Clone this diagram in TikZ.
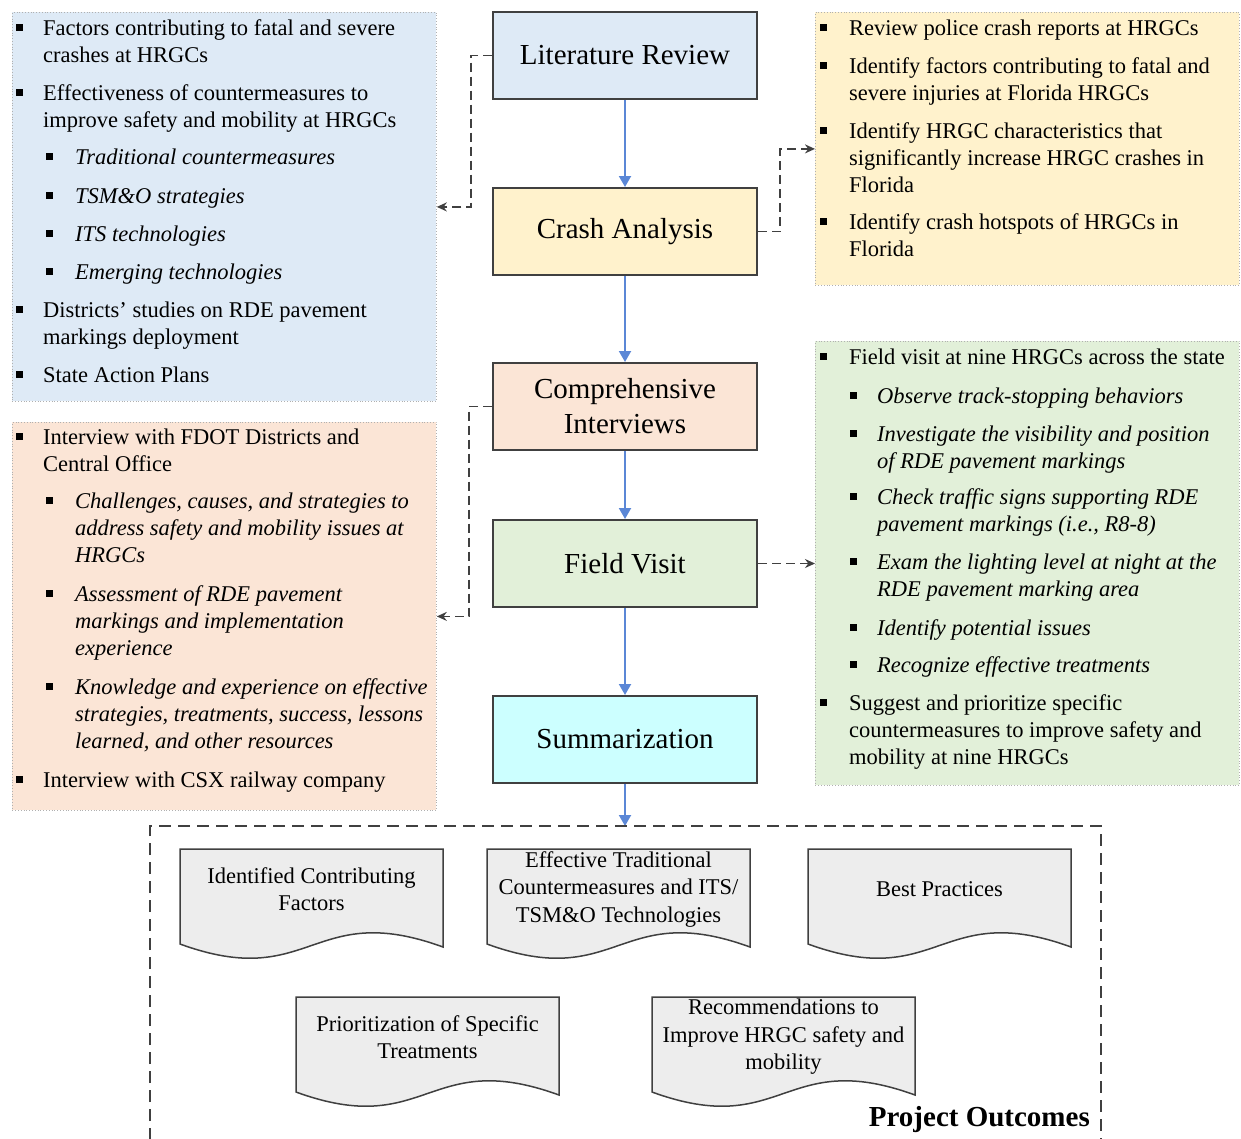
\documentclass[tikz,border=0pt]{standalone}
\usepackage{fontspec}
\setmainfont{Liberation Serif}
\usetikzlibrary{arrows.meta}
\definecolor{cblue}{HTML}{DEEAF6}
\definecolor{cyell}{HTML}{FFF2CC}
\definecolor{corng}{HTML}{FBE5D6}
\definecolor{cgrn}{HTML}{E2F0D9}
\definecolor{ccyan}{HTML}{CCFFFF}
\definecolor{cdoc}{HTML}{EDEDED}
\definecolor{cedge}{HTML}{404040}
\definecolor{carrow}{HTML}{5B87D6}
\definecolor{cpanel}{HTML}{B0B0B0}
\newcommand\bitem[5]{%
  \fill (#2-3.5,#4-11.5) rectangle (#2+3.5,#4-4.5);
  \node[itemtext] (#1) at (#3,#4-18.9) {\strut #5};}
\newcommand\sitem[5]{%
  \fill (#2-3.5,#4-11.5) rectangle (#2+3.5,#4-4.5);
  \node[subtext] (#1) at (#3,#4-18.9) {\strut #5};}
\newcommand\docbox[4]{%
  \filldraw[docshape] (#2,#3) -- (#2+263,#3) -- (#2+263,#3+98)
    .. controls (#2+131.5,#3+50) and (#2+131.5,#3+143) .. (#2,#3+95) -- cycle;
  \node[doctext] (#1) at (#2+131.5,#3+40) {#4};}
\begin{document}
\begin{tikzpicture}[x=1pt,y=-1pt,
  stepbox/.style={draw=cedge, line width=2pt, minimum width=264pt, minimum height=87pt,
    inner sep=0pt, align=center, font=\fontsize{29}{35}\selectfont},
  panel/.style={draw=cpanel, dotted, line width=0.8pt, inner sep=0pt, anchor=north west},
  itemtext/.style={anchor=north west, inner sep=0pt, align=left,
    font=\fontsize{22.5}{27}\selectfont},
  subtext/.style={itemtext, font=\fontsize{22.5}{27}\selectfont\itshape},
  flow/.style={draw=carrow, line width=2pt, -{Triangle[width=12pt,length=11pt]}},
  link/.style={draw=cedge, line width=1.8pt, dash pattern=on 9pt off 5pt,
    -{Stealth[length=10pt,width=9pt]}},
  docshape/.style={fill=cdoc, draw=cedge, line width=1.5pt},
  doctext/.style={align=center, inner sep=0pt, font=\fontsize{22.5}{27.5}\selectfont},
]
\useasboundingbox (0,0) rectangle (1241,1138);

% side panels
\node[panel, fill=cblue, minimum width=424pt, minimum height=389pt] (p1) at (12,12) {};
\node[panel, fill=cyell, minimum width=424pt, minimum height=273pt] (p2) at (815,12) {};
\node[panel, fill=corng, minimum width=424pt, minimum height=388pt] (p3) at (12,422) {};
\node[panel, fill=cgrn, minimum width=424pt, minimum height=444pt] (p4) at (815,341) {};

% main steps
\node[stepbox, fill=cblue] (lr) at (625,55.5) {Literature Review};
\node[stepbox, fill=cyell] (ca) at (625,231.5) {Crash Analysis};
\node[stepbox, fill=corng] (ci) at (625,406.5) {Comprehensive\\Interviews};
\node[stepbox, fill=cgrn] (fv) at (625,563.5) {Field Visit};
\node[stepbox, fill=ccyan] (su) at (625,739.5) {Summarization};
\coordinate (outtop) at (625,826);

\draw[flow] (lr.south) -- (ca.north);
\draw[flow] (ca.south) -- (ci.north);
\draw[flow] (ci.south) -- (fv.north);
\draw[flow] (fv.south) -- (su.north);
\draw[flow] (su.south) -- (outtop);

\draw[link] (lr.west) -- ++(-21,0) |- (p1.east);
\draw[link] (ca.east) -- ++(22,0) |- (p2.west);
\draw[link] (ci.west) -- ++(-23,0) |- (p3.east);
\draw[link] (fv.east) -- (fv.east -| p4.west);

% panel 1
\bitem{a1}{19}{43}{35}{Factors contributing to fatal and severe\\crashes at HRGCs}
\bitem{a2}{19}{43}{100}{Effectiveness of countermeasures to\\improve safety and mobility at HRGCs}
\sitem{a3}{49}{75}{164}{Traditional countermeasures}
\sitem{a4}{49}{75}{203}{TSM\&O strategies}
\sitem{a5}{49}{75}{241}{ITS technologies}
\sitem{a6}{49}{75}{279}{Emerging technologies}
\bitem{a7}{19}{43}{317}{Districts' studies on RDE pavement\\markings deployment}
\bitem{a8}{19}{43}{382}{State Action Plans}

% panel 2
\bitem{b1}{823}{849}{35}{Review police crash reports at HRGCs}
\bitem{b2}{823}{849}{73}{Identify factors contributing to fatal and\\severe injuries at Florida HRGCs}
\bitem{b3}{823}{849}{138}{Identify HRGC characteristics that\\significantly increase HRGC crashes in\\Florida}
\bitem{b4}{823}{849}{229}{Identify crash hotspots of HRGCs in\\Florida}

% panel 3
\bitem{c1}{19}{43}{444}{Interview with FDOT Districts and\\Central Office}
\sitem{c2}{49}{75}{508}{Challenges, causes, and strategies to\\address safety and mobility issues at\\HRGCs}
\sitem{c3}{49}{75}{601}{Assessment of RDE pavement\\markings and implementation\\experience}
\sitem{c4}{49}{75}{694}{Knowledge and experience on effective\\strategies, treatments, success, lessons\\learned, and other resources}
\bitem{c5}{19}{43}{787}{Interview with CSX railway company}

% panel 4
\bitem{d1}{823}{849}{364}{Field visit at nine HRGCs across the state}
\sitem{d2}{853}{877}{403}{Observe track-stopping behaviors}
\sitem{d3}{853}{877}{441}{Investigate the visibility and position\\of RDE pavement markings}
\sitem{d4}{853}{877}{504}{Check traffic signs supporting RDE\\pavement markings (i.e., R8-8)}
\sitem{d5}{853}{877}{569}{Exam the lighting level at night at the\\RDE pavement marking area}
\sitem{d6}{853}{877}{635}{Identify potential issues}
\sitem{d7}{853}{877}{672}{Recognize effective treatments}
\bitem{d8}{823}{849}{710}{Suggest and prioritize specific\\countermeasures to improve safety and\\mobility at nine HRGCs}

% outcomes
\draw[cedge, line width=1.5pt, dash pattern=on 12pt off 7pt]
  (150,1140) -- (150,826) -- (1101,826) -- (1101,1140);
\docbox{o1}{180}{849}{Identified Contributing\\Factors}
\docbox{o2}{487}{849}{Effective Traditional\\Countermeasures and ITS/\\TSM\&O Technologies}
\docbox{o3}{808}{849}{Best Practices}
\docbox{o4}{296}{997}{Prioritization of Specific\\Treatments}
\docbox{o5}{652}{997}{Recommendations to\\Improve HRGC safety and\\mobility}
\node[font=\fontsize{29}{34}\selectfont\bfseries, anchor=base east, inner sep=0pt] (po)
  at (1090,1126) {Project Outcomes};
\end{tikzpicture}
\end{document}
